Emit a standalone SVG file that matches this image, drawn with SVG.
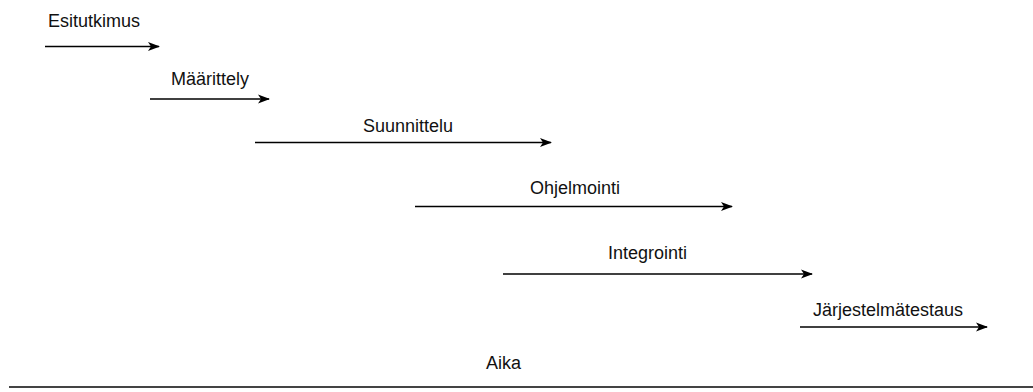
<svg xmlns="http://www.w3.org/2000/svg" width="1033" height="392" viewBox="0 0 1033 392">
  <style>
    .lbl { font-family: "Liberation Sans", Arial, sans-serif; font-size: 18px; fill: #111; }
    .flow { stroke: #000; stroke-width: 1.5; fill: none; }
    .axis { stroke: #444; stroke-width: 2; fill: none; }
  </style>
  <defs>
    <marker id="head" viewBox="0 0 12 10" refX="11" refY="5" markerWidth="12" markerHeight="10" markerUnits="userSpaceOnUse" orient="auto">
      <path d="M0,0.5 L12,5 L0,9.5 L3,5 Z" fill="#000"/>
    </marker>
  </defs>
  <rect width="1033" height="392" fill="#fff"/>

  <!-- phase arrows and the time axis -->
  <g id="connectors">
    <line class="flow" x1="45" y1="46.5" x2="159" y2="46.5" marker-end="url(#head)"/>
    <line class="flow" x1="150" y1="99" x2="269" y2="99" marker-end="url(#head)"/>
    <line class="flow" x1="255" y1="142.5" x2="551" y2="142.5" marker-end="url(#head)"/>
    <line class="flow" x1="415" y1="206.5" x2="732" y2="206.5" marker-end="url(#head)"/>
    <line class="flow" x1="503" y1="274" x2="812" y2="274" marker-end="url(#head)"/>
    <line class="flow" x1="800" y1="327" x2="987" y2="327" marker-end="url(#head)"/>
    <line class="axis" x1="9" y1="387" x2="1033" y2="387"/>
  </g>

  <!-- phase labels -->
  <g id="esitutkimus"><text class="lbl" x="48" y="27">Esitutkimus</text></g>
  <g id="maarittely"><text class="lbl" x="171" y="85">Määrittely</text></g>
  <g id="suunnittelu"><text class="lbl" x="363" y="132">Suunnittelu</text></g>
  <g id="ohjelmointi"><text class="lbl" x="530" y="194">Ohjelmointi</text></g>
  <g id="integrointi"><text class="lbl" x="608" y="259">Integrointi</text></g>
  <g id="jarjestelmatestaus"><text class="lbl" x="813" y="316">Järjestelmätestaus</text></g>
  <g id="aika"><text class="lbl" x="486" y="369">Aika</text></g>
</svg>
